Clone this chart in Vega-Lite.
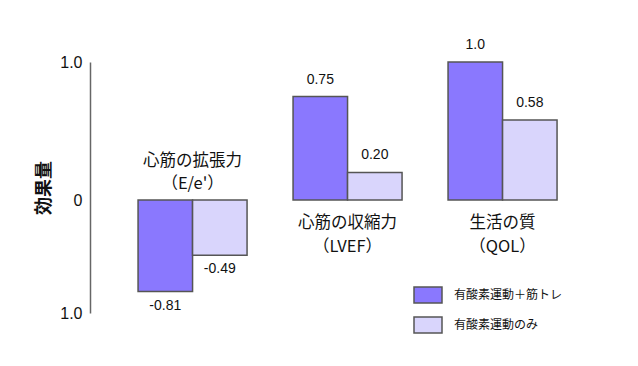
{
  "$schema": "https://vega.github.io/schema/vega-lite/v6.json",
  "width": 487,
  "height": 251,
  "autosize": {"type": "none"},
  "padding": {"left": 110, "top": 62, "right": 41, "bottom": 53},
  "background": "white",
  "config": {"view": {"stroke": null}, "font": "Liberation Sans, Noto Sans CJK JP"},
  "data": {
    "values": [
      {"cat": "E", "catLabel": "心筋の拡張力\n（E/e'）", "series": "有酸素運動＋筋トレ", "value": -0.81, "label": "-0.81"},
      {"cat": "E", "catLabel": "心筋の拡張力\n（E/e'）", "series": "有酸素運動のみ", "value": -0.49, "label": "-0.49"},
      {"cat": "L", "catLabel": "心筋の収縮力\n（LVEF）", "series": "有酸素運動＋筋トレ", "value": 0.75, "label": "0.75"},
      {"cat": "L", "catLabel": "心筋の収縮力\n（LVEF）", "series": "有酸素運動のみ", "value": 0.2, "label": "0.20"},
      {"cat": "Q", "catLabel": "生活の質\n（QOL）", "series": "有酸素運動＋筋トレ", "value": 1.0, "label": "1.0"},
      {"cat": "Q", "catLabel": "生活の質\n（QOL）", "series": "有酸素運動のみ", "value": 0.58, "label": "0.58"}
    ]
  },
  "encoding": {
    "x": {"field": "cat", "type": "nominal", "sort": ["E", "L", "Q"], "scale": {"paddingInner": 0, "paddingOuter": 0.071, "align": 0.23}, "axis": null},
    "y": {
      "field": "value", "type": "quantitative",
      "scale": {"domain": [-1, 0, 1], "range": [251, 138, 0], "nice": false, "zero": false},
      "axis": {
        "title": "効果量", "titleFont": "Noto Sans CJK JP", "titleFontSize": 18, "titleColor": "#111", "titleFontWeight": "bold", "titlePadding": 6,
        "values": [-1, 0, 1], "labelExpr": "datum.value == 0 ? '0' : '1.0'",
        "labelFontSize": 16, "labelColor": "#111", "labelPadding": 8,
        "ticks": false, "grid": false, "domainColor": "#666", "domainWidth": 1.5, "offset": 20
      }
    }
  },
  "layer": [
    {
      "mark": {"type": "bar", "stroke": "#555", "strokeWidth": 1.5},
      "encoding": {
        "y2": {"datum": 0},
        "xOffset": {"field": "series", "type": "nominal", "sort": ["有酸素運動＋筋トレ", "有酸素運動のみ"], "scale": {"paddingInner": 0, "paddingOuter": 0.422}},
        "fill": {
          "field": "series", "type": "nominal",
          "scale": {"domain": ["有酸素運動＋筋トレ", "有酸素運動のみ"], "range": ["#8a78fe", "#d9d5fc"]},
          "legend": {
            "title": null, "orient": "none", "legendX": 303, "legendY": 218, "padding": 0,
            "symbolType": "M-1,-0.571H1V0.571H-1Z", "symbolSize": 784, "symbolStrokeColor": "#555", "symbolStrokeWidth": 1.5,
            "labelFont": "Noto Sans CJK JP", "labelFontSize": 12, "labelColor": "#111", "labelOffset": 11, "rowPadding": 4
          }
        }
      }
    },
    {
      "mark": {"type": "rule", "color": "#666", "strokeWidth": 1.5},
      "encoding": {"y": {"datum": 0}}
    },
    {
      "transform": [{"filter": "datum.value >= 0"}],
      "mark": {"type": "text", "baseline": "alphabetic", "dy": -13, "fontSize": 14, "color": "#111"},
      "encoding": {
        "xOffset": {"field": "series", "type": "nominal", "sort": ["有酸素運動＋筋トレ", "有酸素運動のみ"]},
        "text": {"field": "label"}
      }
    },
    {
      "transform": [{"filter": "datum.value < 0"}],
      "mark": {"type": "text", "baseline": "top", "dy": 7, "fontSize": 14, "color": "#111"},
      "encoding": {
        "xOffset": {"field": "series", "type": "nominal", "sort": ["有酸素運動＋筋トレ", "有酸素運動のみ"]},
        "text": {"field": "label"}
      }
    },
    {
      "transform": [{"filter": "datum.series == '有酸素運動＋筋トレ' && datum.value < 0"}],
      "mark": {"type": "text", "baseline": "middle", "dy": -39, "fontSize": 16.5, "lineHeight": 23, "font": "Noto Sans CJK JP", "color": "#111", "lineBreak": "\n"},
      "encoding": {"y": {"datum": 0}, "text": {"field": "catLabel"}}
    },
    {
      "transform": [{"filter": "datum.series == '有酸素運動＋筋トレ' && datum.value >= 0"}],
      "mark": {"type": "text", "baseline": "middle", "dy": 23, "fontSize": 16.5, "lineHeight": 24, "font": "Noto Sans CJK JP", "color": "#111", "lineBreak": "\n"},
      "encoding": {"y": {"datum": 0}, "text": {"field": "catLabel"}}
    }
  ]
}
